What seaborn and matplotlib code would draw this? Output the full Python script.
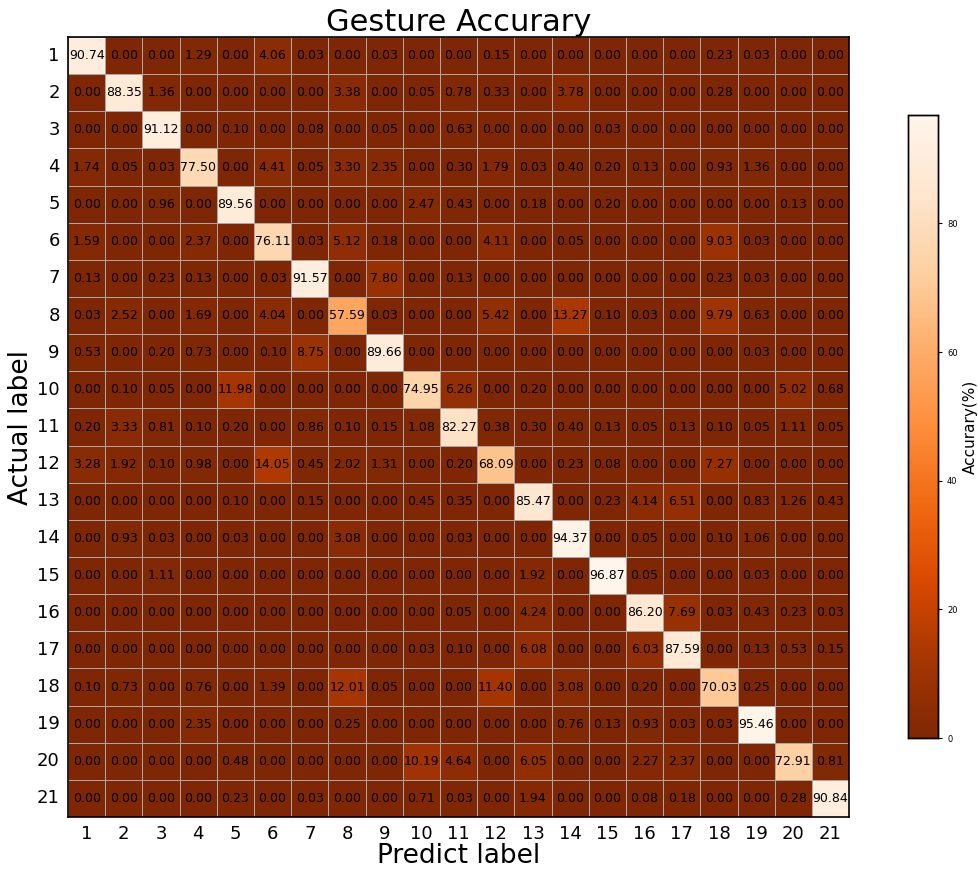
import numpy as np
import pandas as pd
import matplotlib
matplotlib.use("Agg")
import matplotlib.pyplot as plt
import seaborn as sns

labels = [str(i) for i in range(1, 22)]

row01 = [90.74, 0.00, 0.00, 1.29, 0.00, 4.06, 0.03, 0.00, 0.03, 0.00, 0.00, 0.15, 0.00, 0.00, 0.00, 0.00, 0.00, 0.23, 0.03, 0.00, 0.00]
row02 = [0.00, 88.35, 1.36, 0.00, 0.00, 0.00, 0.00, 3.38, 0.00, 0.05, 0.78, 0.33, 0.00, 3.78, 0.00, 0.00, 0.00, 0.28, 0.00, 0.00, 0.00]
row03 = [0.00, 0.00, 91.12, 0.00, 0.10, 0.00, 0.08, 0.00, 0.05, 0.00, 0.63, 0.00, 0.00, 0.00, 0.03, 0.00, 0.00, 0.00, 0.00, 0.00, 0.00]
row04 = [1.74, 0.05, 0.03, 77.50, 0.00, 4.41, 0.05, 3.30, 2.35, 0.00, 0.30, 1.79, 0.03, 0.40, 0.20, 0.13, 0.00, 0.93, 1.36, 0.00, 0.00]
row05 = [0.00, 0.00, 0.96, 0.00, 89.56, 0.00, 0.00, 0.00, 0.00, 2.47, 0.43, 0.00, 0.18, 0.00, 0.20, 0.00, 0.00, 0.00, 0.00, 0.13, 0.00]
row06 = [1.59, 0.00, 0.00, 2.37, 0.00, 76.11, 0.03, 5.12, 0.18, 0.00, 0.00, 4.11, 0.00, 0.05, 0.00, 0.00, 0.00, 9.03, 0.03, 0.00, 0.00]
row07 = [0.13, 0.00, 0.23, 0.13, 0.00, 0.03, 91.57, 0.00, 7.80, 0.00, 0.13, 0.00, 0.00, 0.00, 0.00, 0.00, 0.00, 0.23, 0.03, 0.00, 0.00]
row08 = [0.03, 2.52, 0.00, 1.69, 0.00, 4.04, 0.00, 57.59, 0.03, 0.00, 0.00, 5.42, 0.00, 13.27, 0.10, 0.03, 0.00, 9.79, 0.63, 0.00, 0.00]
row09 = [0.53, 0.00, 0.20, 0.73, 0.00, 0.10, 8.75, 0.00, 89.66, 0.00, 0.00, 0.00, 0.00, 0.00, 0.00, 0.00, 0.00, 0.00, 0.03, 0.00, 0.00]
row10 = [0.00, 0.10, 0.05, 0.00, 11.98, 0.00, 0.00, 0.00, 0.00, 74.95, 6.26, 0.00, 0.20, 0.00, 0.00, 0.00, 0.00, 0.00, 0.00, 5.02, 0.68]
row11 = [0.20, 3.33, 0.81, 0.10, 0.20, 0.00, 0.86, 0.10, 0.15, 1.08, 82.27, 0.38, 0.30, 0.40, 0.13, 0.05, 0.13, 0.10, 0.05, 1.11, 0.05]
row12 = [3.28, 1.92, 0.10, 0.98, 0.00, 14.05, 0.45, 2.02, 1.31, 0.00, 0.20, 68.09, 0.00, 0.23, 0.08, 0.00, 0.00, 7.27, 0.00, 0.00, 0.00]
row13 = [0.00, 0.00, 0.00, 0.00, 0.10, 0.00, 0.15, 0.00, 0.00, 0.45, 0.35, 0.00, 85.47, 0.00, 0.23, 4.14, 6.51, 0.00, 0.83, 1.26, 0.43]
row14 = [0.00, 0.93, 0.03, 0.00, 0.03, 0.00, 0.00, 3.08, 0.00, 0.00, 0.03, 0.00, 0.00, 94.37, 0.00, 0.05, 0.00, 0.10, 1.06, 0.00, 0.00]
row15 = [0.00, 0.00, 1.11, 0.00, 0.00, 0.00, 0.00, 0.00, 0.00, 0.00, 0.00, 0.00, 1.92, 0.00, 96.87, 0.05, 0.00, 0.00, 0.03, 0.00, 0.00]
row16 = [0.00, 0.00, 0.00, 0.00, 0.00, 0.00, 0.00, 0.00, 0.00, 0.00, 0.05, 0.00, 4.24, 0.00, 0.00, 86.20, 7.69, 0.03, 0.43, 0.23, 0.03]
row17 = [0.00, 0.00, 0.00, 0.00, 0.00, 0.00, 0.00, 0.00, 0.00, 0.03, 0.10, 0.00, 6.08, 0.00, 0.00, 6.03, 87.59, 0.00, 0.13, 0.53, 0.15]
row18 = [0.10, 0.73, 0.00, 0.76, 0.00, 1.39, 0.00, 12.01, 0.05, 0.00, 0.00, 11.40, 0.00, 3.08, 0.00, 0.20, 0.00, 70.03, 0.25, 0.00, 0.00]
row19 = [0.00, 0.00, 0.00, 2.35, 0.00, 0.00, 0.00, 0.25, 0.00, 0.00, 0.00, 0.00, 0.00, 0.76, 0.13, 0.93, 0.03, 0.03, 95.46, 0.00, 0.00]
row20 = [0.00, 0.00, 0.00, 0.00, 0.48, 0.00, 0.00, 0.00, 0.00, 10.19, 4.64, 0.00, 6.05, 0.00, 0.00, 2.27, 2.37, 0.00, 0.00, 72.91, 0.81]
row21 = [0.00, 0.00, 0.00, 0.00, 0.23, 0.00, 0.03, 0.00, 0.00, 0.71, 0.03, 0.00, 1.94, 0.00, 0.00, 0.08, 0.18, 0.00, 0.00, 0.28, 90.84]

rows = [row01, row02, row03, row04, row05, row06, row07, row08, row09, row10, row11,
        row12, row13, row14, row15, row16, row17, row18, row19, row20, row21]
df = pd.DataFrame(rows, index=labels, columns=labels)

sns.set_style("white")
plt.rcParams['font.family'] = ['DejaVu Sans']
plt.rcParams['text.color'] = 'black'
plt.rcParams['axes.labelcolor'] = 'black'
plt.rcParams['xtick.color'] = 'black'
plt.rcParams['ytick.color'] = 'black'

fig = plt.figure(figsize=(9.79, 8.69), dpi=100)
ax = fig.add_axes([0.0695, 0.0598, 0.7978, 0.8976])
cax = fig.add_axes([0.9275, 0.1507, 0.0306, 0.717])

sns.heatmap(df, ax=ax, cbar_ax=cax, cmap="Oranges_r", vmin=0, vmax=df.values.max(),
            annot=True, fmt=".2f", annot_kws={"size": 9, "color": "black"},
            linewidths=0.5, linecolor="#a8a8a8", square=False,
            cbar_kws={"label": "Accurary(%)"})

ax.set_title("Gesture Accurary", fontsize=22, pad=4, color="black")
ax.set_xlabel("Predict label", fontsize=19, labelpad=0)
ax.set_ylabel("Actual label", fontsize=19, labelpad=2)
ax.tick_params(axis="both", labelsize=13, length=4, width=1, colors="black", pad=2)
ax.tick_params(axis="y", rotation=0)
ax.tick_params(axis="x", rotation=0)
for s in ax.spines.values():
    s.set_visible(True)
    s.set_color("black")
    s.set_linewidth(1.2)

cax.tick_params(labelsize=6, length=3, colors="black")
cax.set_ylabel("Accurary(%)", fontsize=11, color="black")
cax.set_yticks([0, 20, 40, 60, 80])
for s in cax.spines.values():
    s.set_visible(True)
    s.set_color("black")
    s.set_linewidth(1)

fig.savefig("out.png", dpi=100)
